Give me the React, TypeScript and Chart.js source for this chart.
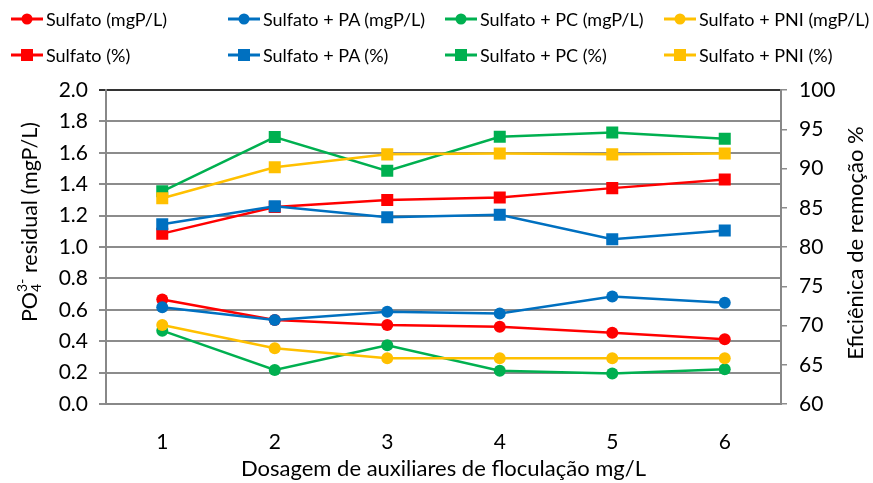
import React, { useEffect, useRef } from 'react';
import { Chart, registerables } from 'chart.js';

Chart.register(...registerables);

// Dosage categories (mg/L)
const doses = ['1', '2', '3', '4', '5', '6'];

// Residual phosphate (mgP/L) — left axis
const sulfatoMg = [0.665, 0.535, 0.503, 0.492, 0.454, 0.413];
const sulfatoPaMg = [0.616, 0.535, 0.588, 0.577, 0.684, 0.645];
const sulfatoPcMg = [0.467, 0.217, 0.374, 0.212, 0.195, 0.221];
const sulfatoPniMg = [0.503, 0.355, 0.291, 0.291, 0.291, 0.291];

// Removal efficiency (%) — right axis
const sulfatoPct = [81.7, 85.1, 86.0, 86.3, 87.5, 88.6];
const sulfatoPaPct = [82.9, 85.2, 83.8, 84.1, 81.0, 82.1];
const sulfatoPcPct = [87.1, 94.0, 89.7, 94.05, 94.6, 93.8];
const sulfatoPniPct = [86.2, 90.15, 91.8, 91.9, 91.8, 91.9];

const leftTicks = { min: 0, max: 2, step: 0.2 };
const rightTicks = { min: 60, max: 100, step: 5 };

const RED = '#FF0000';
const BLUE = '#0070C0';
const GREEN = '#00B050';
const YELLOW = '#FFC000';

const FONT = 'Lato, "Open Sans", sans-serif';

type Series = { label: string; data: number[]; color: string; shape: 'circle' | 'rect'; axis: 'y' | 'y1' };

const series: Series[] = [
  { label: 'Sulfato (mgP/L)', data: sulfatoMg, color: RED, shape: 'circle', axis: 'y' },
  { label: 'Sulfato + PA (mgP/L)', data: sulfatoPaMg, color: BLUE, shape: 'circle', axis: 'y' },
  { label: 'Sulfato + PC (mgP/L)', data: sulfatoPcMg, color: GREEN, shape: 'circle', axis: 'y' },
  { label: 'Sulfato + PNI (mgP/L)', data: sulfatoPniMg, color: YELLOW, shape: 'circle', axis: 'y' },
  { label: 'Sulfato (%)', data: sulfatoPct, color: RED, shape: 'rect', axis: 'y1' },
  { label: 'Sulfato + PA (%)', data: sulfatoPaPct, color: BLUE, shape: 'rect', axis: 'y1' },
  { label: 'Sulfato + PC (%)', data: sulfatoPcPct, color: GREEN, shape: 'rect', axis: 'y1' },
  { label: 'Sulfato + PNI (%)', data: sulfatoPniPct, color: YELLOW, shape: 'rect', axis: 'y1' },
];

// Axis titles, including the PO4(3-) notation on the left axis
const axisTitles = {
  id: 'axisTitles',
  afterDraw(chart: any) {
    const { ctx, chartArea } = chart;
    ctx.save();
    ctx.fillStyle = '#000';
    ctx.textBaseline = 'middle';

    // bottom title
    ctx.font = `22px ${FONT}`;
    ctx.textAlign = 'center';
    ctx.fillText('Dosagem de auxiliares de floculação mg/L', (chartArea.left + chartArea.right) / 2, 469);

    // right title
    ctx.save();
    ctx.font = `22px ${FONT}`;
    ctx.translate(856, 243);
    ctx.rotate(-Math.PI / 2);
    ctx.fillText('Eficiênica de remoção %', 0, 0);
    ctx.restore();

    // left title: PO₄³⁻ residual (mgP/L)
    ctx.save();
    ctx.translate(30, 222);
    ctx.rotate(-Math.PI / 2);
    ctx.textAlign = 'left';
    const big = `21.5px ${FONT}`;
    const small = `14px ${FONT}`;
    ctx.font = big;
    const wPO = ctx.measureText('PO').width;
    const rest = ' residual (mgP/L)';
    const wRest = ctx.measureText(rest).width;
    ctx.font = small;
    const wSup = ctx.measureText('3-').width;
    const wSub = ctx.measureText('4').width;
    const wMid = Math.max(wSup, wSub);
    let x = -(wPO + wMid + wRest) / 2;
    ctx.font = big;
    ctx.fillText('PO', x, 0);
    x += wPO;
    ctx.font = small;
    ctx.fillText('3-', x, -8);
    ctx.fillText('4', x, 6);
    x += wMid;
    ctx.font = big;
    ctx.fillText(rest, x, 0);
    ctx.restore();

    ctx.restore();
  },
};

function LegendMarker({ color, shape }: { color: string; shape: 'circle' | 'rect' }) {
  return (
    <svg width={32} height={16} style={{ display: 'block' }}>
      <line x1={0} y1={8} x2={32} y2={8} stroke={color} strokeWidth={3} />
      {shape === 'circle' ? (
        <circle cx={16} cy={8} r={5.5} fill={color} />
      ) : (
        <rect x={10} y={2} width={12} height={12} fill={color} />
      )}
    </svg>
  );
}

export default function App() {
  const canvasRef = useRef<HTMLCanvasElement | null>(null);

  useEffect(() => {
    if (!canvasRef.current) return;
    const tickFont = { family: FONT, size: 21 };
    const chart = new Chart(canvasRef.current, {
      type: 'line',
      data: {
        labels: doses,
        datasets: series.map((s, i) => ({
          label: s.label,
          data: s.data,
          yAxisID: s.axis,
          borderColor: s.color,
          backgroundColor: s.color,
          borderWidth: 2.5,
          pointStyle: s.shape,
          pointRadius: s.shape === 'circle' ? 6 : 8.5,
          pointBorderWidth: 0,
          pointBackgroundColor: s.color,
          tension: 0,
          order: 20 - i,
        })),
      },
      plugins: [axisTitles],
      options: {
        responsive: false,
        animation: false,
        layout: { padding: { top: 90, left: 0, right: 0, bottom: 0 } },
        plugins: { legend: { display: false }, tooltip: { enabled: false } },
        scales: {
          x: {
            offset: true,
            grid: { display: false, drawTicks: false },
            border: { display: true, color: '#888', width: 2 },
            ticks: { padding: 26, color: '#000', font: tickFont },
            afterFit: (s: any) => {
              s.height = 79;
            },
          },
          y: {
            position: 'left',
            min: leftTicks.min,
            max: leftTicks.max,
            ticks: {
              stepSize: leftTicks.step,
              padding: 11,
              color: '#000',
              font: tickFont,
              callback: (v: any) => Number(v).toFixed(1),
            },
            grid: {
              color: (c: any) => (c.tick && Math.abs(c.tick.value - leftTicks.max) < 1e-6 ? '#333' : '#8c8c8c'),
              lineWidth: 2,
              tickLength: 7,
            },
            border: { color: '#888', width: 2 },
            afterFit: (s: any) => {
              s.width = 106;
            },
          },
          y1: {
            position: 'right',
            min: rightTicks.min,
            max: rightTicks.max,
            ticks: { stepSize: rightTicks.step, padding: 12, color: '#000', font: tickFont },
            grid: { drawOnChartArea: false, color: '#8c8c8c', lineWidth: 1.5, tickLength: 6 },
            border: { color: '#888', width: 2 },
            afterFit: (s: any) => {
              s.width = 92;
            },
          },
        },
      },
    });
    return () => chart.destroy();
  }, []);

  const colX = [11, 228, 445, 664];
  const rowY = [19, 55];

  return (
    <div style={{ position: 'absolute', left: 0, top: 0, width: 873, height: 483, background: '#fff' }}>
      <canvas ref={canvasRef} width={873} height={483} style={{ display: 'block', position: 'absolute', left: 0, top: 0 }} />
      {series.map((s, i) => {
        const col = i % 4;
        const row = Math.floor(i / 4);
        return (
          <div
            key={s.label}
            style={{
              position: 'absolute',
              left: colX[col],
              top: rowY[row] - 12,
              height: 24,
              display: 'flex',
              alignItems: 'center',
              fontFamily: FONT,
              fontSize: 18,
              color: '#000',
              whiteSpace: 'nowrap',
            }}
          >
            <LegendMarker color={s.color} shape={s.shape} />
            <span style={{ marginLeft: 3 }}>{s.label}</span>
          </div>
        );
      })}
    </div>
  );
}
